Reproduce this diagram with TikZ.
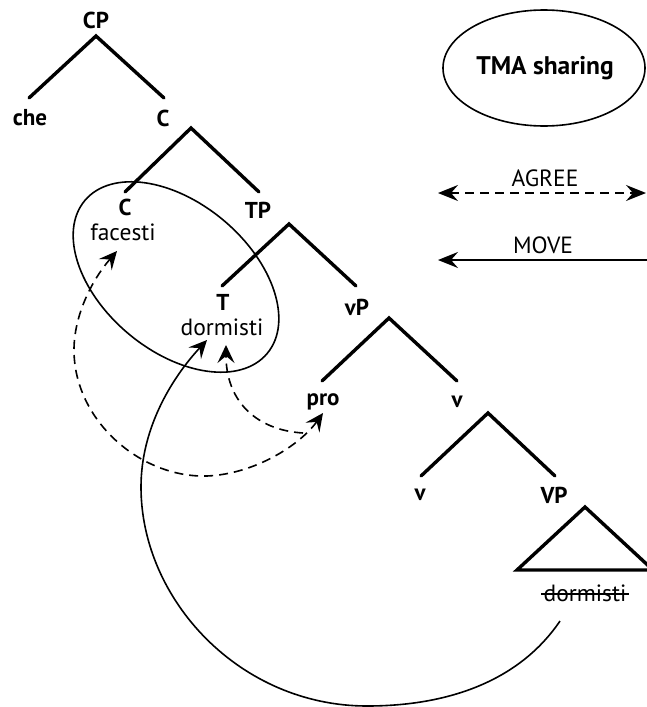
\documentclass[tikz,border=0pt]{standalone}
\usepackage{fontspec}
\setmainfont{PT Sans}
\usetikzlibrary{arrows.meta,shapes.geometric}
\begin{document}
\begin{tikzpicture}[x=1pt,y=-1pt,
  lab/.style={font=\fontsize{23}{27}\selectfont\bfseries, inner sep=0pt},
  word/.style={font=\fontsize{23.5}{27}\selectfont, inner sep=0pt},
  branch/.style={line width=3.4pt, line cap=round, line join=miter},
  thinline/.style={line width=1.6pt},
  agr/.style={line width=1.6pt, dash pattern=on 9pt off 6pt},
  smalltip/.tip={Stealth[length=18pt,width=17pt,inset=7pt]},
  bigtip/.tip={Stealth[length=20pt,width=16pt,inset=7pt]},
]
\useasboundingbox (0,0) rectangle (646,707);

% tree labels
\node[lab] (CP) at (96,20) {CP};
\node[lab] (che) at (30,118) {che};
\node[lab] (C1) at (163,118) {C};
\node[lab] (C2) at (125,207) {C};
\node[word] (facesti) at (123,232) {facesti};
\node[lab] (TP) at (258,210) {TP};
\node[lab] (T) at (223,302) {T};
\node[word] (dorm) at (222,327) {dormisti};
\node[lab] (vP) at (357,307) {vP};
\node[lab] (pro) at (323,402) {pro};
\node[lab] (v1) at (457,402) {v};
\node[lab] (v2) at (420,495) {v};
\node[lab] (VP) at (554,495) {VP};
\node[word, inner xsep=2pt] (ds) at (585,593) {dormisti};
\draw[line width=1.2pt] ([yshift=-1pt]ds.west) -- ([yshift=-1pt]ds.east);

% branch coordinates
\coordinate (cpA) at (96,36);  \coordinate (cpL) at (29,98);  \coordinate (cpR) at (164,98);
\coordinate (cA) at (191,128); \coordinate (cL) at (125,192); \coordinate (cR) at (259,192);
\coordinate (tpA) at (289,224); \coordinate (tpL) at (222,286); \coordinate (tpR) at (356,286);
\coordinate (vpA) at (389,318); \coordinate (vpL) at (322,381); \coordinate (vpR) at (457,381);
\coordinate (vA) at (488,413); \coordinate (vL) at (421,476); \coordinate (vR) at (555,476);
\coordinate (triA) at (585,507); \coordinate (triL) at (517,570); \coordinate (triR) at (653,570);

\draw[branch] (cpL) -- (cpA) -- (cpR);
\draw[branch] (cL) -- (cA) -- (cR);
\draw[branch] (tpL) -- (tpA) -- (tpR);
\draw[branch] (vpL) -- (vpA) -- (vpR);
\draw[branch] (vL) -- (vA) -- (vR);
\draw[branch] (triL) -- (triA) -- (triR) -- cycle;

% sharing ellipse
\node[draw, thinline, ellipse, minimum width=238pt, minimum height=148pt, inner sep=0pt, rotate=-40] (share) at (176,277) {};

% legend
\node[draw, thinline, ellipse, minimum width=202pt, minimum height=116pt, inner sep=0pt] (tmaE) at (544,68) {};
\node[font=\fontsize{25.5}{30}\selectfont\bfseries, inner sep=0pt] (tma) at (545,68) {TMA sharing};
\node[word] (agree) at (545,178) {AGREE};
\node[word] (move) at (543,245) {MOVE};
\coordinate (agL) at (438,193); \coordinate (agR) at (646,193);
\coordinate (mvL) at (438,260); \coordinate (mvR) at (648,260);
\draw[agr, bigtip-bigtip] (agL) -- (agR);
\draw[thinline, -bigtip] (mvR) -- (mvL);

% agreement arrows
\coordinate (facTip) at (117,251);
\coordinate (proTip) at (323,413);
\coordinate (tTip) at (226,345);
\coordinate (branchPt) at (303,433);
\draw[agr, smalltip-smalltip] (facTip) .. controls (92,280) and (74,315) .. (74,350)
   .. controls (74,420) and (140,478) .. (207,476)
   .. controls (255,474) and (300,445) .. (proTip);
\draw[agr, -smalltip] (branchPt) .. controls (255,430) and (226,400) .. (tTip);

% movement arrow
\coordinate (mvStart) at (560,621);
\coordinate (tTip2) at (207,340);
\draw[thinline, -smalltip] (mvStart) .. controls (520,680) and (450,706) .. (367,706)
   .. controls (240,706) and (141,600) .. (141,487)
   .. controls (141,430) and (170,380) .. (tTip2);
\end{tikzpicture}
\end{document}
